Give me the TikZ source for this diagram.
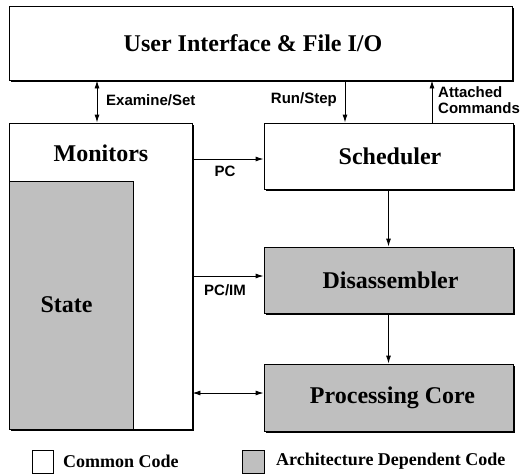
\documentclass[tikz,border=0pt]{standalone}
\usepackage{fontspec}
\setmainfont{Liberation Serif}
\newfontfamily\lsans{Liberation Sans}
\usetikzlibrary{arrows.meta,shadows}
\definecolor{archgray}{gray}{0.75}
\tikzset{
  box/.style={draw=black, line width=0.9pt, fill=white, inner sep=0pt,
    general shadow={shadow xshift=1.8pt, shadow yshift=-1.8pt, fill=black},
    font=\fontsize{24}{28}\selectfont\bfseries},
  graybox/.style={box, fill=archgray},
  plainbox/.style={draw=black, line width=0.7pt, inner sep=0pt},
  lbl/.style={font=\lsans\fontsize{15}{16}\selectfont\bfseries, inner sep=0pt},
  legtxt/.style={font=\fontsize{18}{20}\selectfont\bfseries, inner sep=0pt, anchor=west},
  conn/.style={line width=0.9pt, -{Latex[length=8pt,width=5pt]}},
  bconn/.style={line width=0.9pt, {Latex[length=8pt,width=5pt]}-{Latex[length=8pt,width=5pt]}}
}
\begin{document}
\begin{tikzpicture}[x=1pt,y=-1pt]
\useasboundingbox (0,0) rectangle (522,475);
% boxes
\node[box, minimum width=503pt, minimum height=74pt] (ui) at (260.5,43) {\hspace*{-15pt}User Interface \& File I/O};
\node[box, minimum width=183pt, minimum height=306pt] (mon) at (100.5,276) {};
\node[plainbox, fill=archgray, minimum width=124pt, minimum height=248pt] (state) at (71,305) {};
\node[font=\fontsize{24}{28}\selectfont\bfseries, inner sep=0pt] (statelbl) at (66.5,305) {State};
\node[font=\fontsize{24}{28}\selectfont\bfseries, inner sep=0pt] (monlbl) at (101,153) {Monitors};
\node[box, minimum width=249pt, minimum height=66pt] (sched) at (388.5,156) {\hspace*{3pt}Scheduler};
\node[graybox, minimum width=249pt, minimum height=66pt] (dis) at (388.5,280) {\hspace*{4pt}Disassembler};
\node[graybox, minimum width=249pt, minimum height=67pt] (core) at (388.5,397.5) {\hspace*{8pt}Processing Core};
% helper coordinates
\coordinate (xex) at (97,0);
\coordinate (xrun) at (345,0);
\coordinate (xatt) at (432,0);
\coordinate (ypc) at (0,159);
\coordinate (ypcim) at (0,276);
\coordinate (ybi) at (0,393);
% connectors
\draw[bconn] (xex |- ui.south) -- (xex |- mon.north);
\draw[conn] (xrun |- ui.south) -- (xrun |- sched.north);
\draw[conn] (xatt |- sched.north) -- (xatt |- ui.south);
\draw[conn] (mon.east |- ypc) -- (sched.west |- ypc);
\draw[conn] (mon.east |- ypcim) -- (dis.west |- ypcim);
\draw[bconn] (mon.east |- ybi) -- (core.west |- ybi);
\draw[conn] (sched.south) -- (dis.north);
\draw[conn] (dis.south) -- (core.north);
% labels
\node[lbl, anchor=west] (lex) at (106,100) {Examine/Set};
\node[lbl, anchor=east] (lrun) at (337,100) {Run/Step};
\node[lbl, anchor=west, align=left] (latt) at (438,100) {Attached\\Commands};
\node[lbl] (lpc) at (225,171) {PC};
\node[lbl] (lpcim) at (225,290) {PC/IM};
% legend
\node[plainbox, fill=white, minimum width=21pt, minimum height=23pt] (leg1) at (42.5,461.5) {};
\node[legtxt] (leg1t) at (63,461.5) {Common Code};
\node[plainbox, fill=archgray, minimum width=22pt, minimum height=23pt] (leg2) at (253.5,461.5) {};
\node[legtxt] (leg2t) at (276,461.5) {Architecture Dependent Code};
\end{tikzpicture}
\end{document}
